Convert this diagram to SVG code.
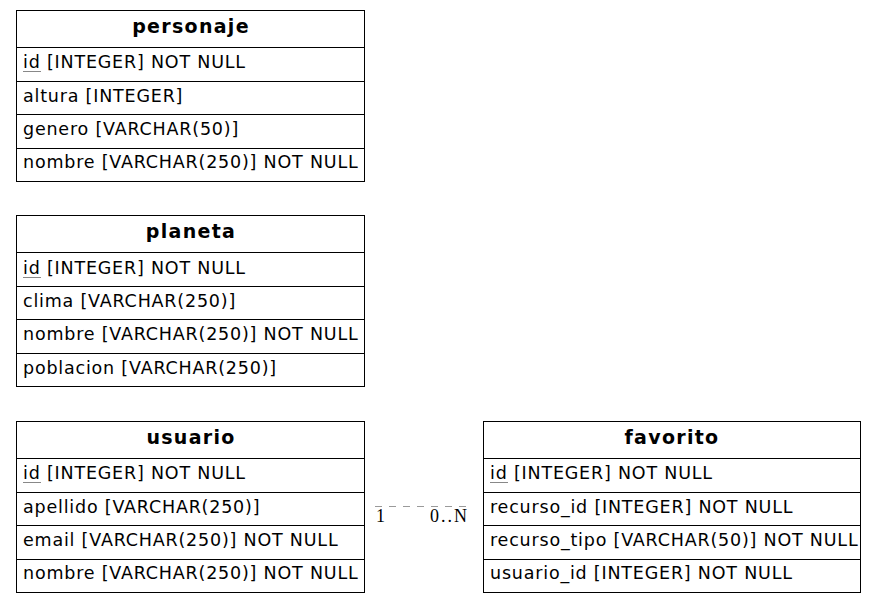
<svg xmlns="http://www.w3.org/2000/svg" width="876" height="603" viewBox="0 0 876 603">
  <style>
    .box { fill: #ffffff; stroke: #000000; stroke-width: 1; }
    .sep { stroke: #000000; stroke-width: 1; }
    .title { font-family: "DejaVu Sans", sans-serif; font-size: 19px; font-weight: bold; letter-spacing: 1.3px; text-anchor: middle; fill: #000; }
    .col { font-family: "DejaVu Sans", sans-serif; font-size: 17.5px; letter-spacing: 0.8px; fill: #000; }
    .pk { stroke: #888888; stroke-width: 1; }
    .rel { stroke: #9a9a9a; stroke-width: 1; stroke-dasharray: 7 7; fill: none; }
    .card { font-family: "Liberation Serif", "DejaVu Serif", serif; font-size: 18px; letter-spacing: 2px; fill: #000; }
  </style>
  <rect width="876" height="603" fill="#ffffff"/>

  <!-- personaje -->
  <g id="personaje">
    <rect class="box" x="16.5" y="10.5" width="348" height="171"/>
    <line class="sep" x1="16.5" y1="47.5" x2="364.5" y2="47.5"/>
    <line class="sep" x1="16.5" y1="81.5" x2="364.5" y2="81.5"/>
    <line class="sep" x1="16.5" y1="114.5" x2="364.5" y2="114.5"/>
    <line class="sep" x1="16.5" y1="148.5" x2="364.5" y2="148.5"/>
    <text class="title" x="191" y="33">personaje</text>
    <text class="col" x="23" y="68">id [INTEGER] NOT NULL</text>
    <line class="pk" x1="23" y1="71.5" x2="41" y2="71.5"/>
    <text class="col" x="23" y="102">altura [INTEGER]</text>
    <text class="col" x="23" y="135">genero [VARCHAR(50)]</text>
    <text class="col" x="23" y="168">nombre [VARCHAR(250)] NOT NULL</text>
  </g>

  <!-- planeta -->
  <g id="planeta">
    <rect class="box" x="16.5" y="215.5" width="348" height="171"/>
    <line class="sep" x1="16.5" y1="252.5" x2="364.5" y2="252.5"/>
    <line class="sep" x1="16.5" y1="286.5" x2="364.5" y2="286.5"/>
    <line class="sep" x1="16.5" y1="319.5" x2="364.5" y2="319.5"/>
    <line class="sep" x1="16.5" y1="353.5" x2="364.5" y2="353.5"/>
    <text class="title" x="191" y="238">planeta</text>
    <text class="col" x="23" y="274">id [INTEGER] NOT NULL</text>
    <line class="pk" x1="23" y1="277.5" x2="41" y2="277.5"/>
    <text class="col" x="23" y="307">clima [VARCHAR(250)]</text>
    <text class="col" x="23" y="340">nombre [VARCHAR(250)] NOT NULL</text>
    <text class="col" x="23" y="374">poblacion [VARCHAR(250)]</text>
  </g>

  <!-- usuario -->
  <g id="usuario">
    <rect class="box" x="16.5" y="421.5" width="348" height="171"/>
    <line class="sep" x1="16.5" y1="458.5" x2="364.5" y2="458.5"/>
    <line class="sep" x1="16.5" y1="492.5" x2="364.5" y2="492.5"/>
    <line class="sep" x1="16.5" y1="525.5" x2="364.5" y2="525.5"/>
    <line class="sep" x1="16.5" y1="559.5" x2="364.5" y2="559.5"/>
    <text class="title" x="191" y="444">usuario</text>
    <text class="col" x="23" y="479">id [INTEGER] NOT NULL</text>
    <line class="pk" x1="23" y1="482.5" x2="41" y2="482.5"/>
    <text class="col" x="23" y="513">apellido [VARCHAR(250)]</text>
    <text class="col" x="23" y="546">email [VARCHAR(250)] NOT NULL</text>
    <text class="col" x="23" y="579">nombre [VARCHAR(250)] NOT NULL</text>
  </g>

  <!-- favorito -->
  <g id="favorito">
    <rect class="box" x="483.5" y="421.5" width="377" height="171"/>
    <line class="sep" x1="483.5" y1="458.5" x2="860.5" y2="458.5"/>
    <line class="sep" x1="483.5" y1="492.5" x2="860.5" y2="492.5"/>
    <line class="sep" x1="483.5" y1="525.5" x2="860.5" y2="525.5"/>
    <line class="sep" x1="483.5" y1="559.5" x2="860.5" y2="559.5"/>
    <text class="title" x="672" y="444">favorito</text>
    <text class="col" x="490" y="479">id [INTEGER] NOT NULL</text>
    <line class="pk" x1="490" y1="482.5" x2="508" y2="482.5"/>
    <text class="col" x="490" y="513">recurso_id [INTEGER] NOT NULL</text>
    <text class="col" x="490" y="546">recurso_tipo [VARCHAR(50)] NOT NULL</text>
    <text class="col" x="490" y="579">usuario_id [INTEGER] NOT NULL</text>
  </g>

  <!-- relationships -->
  <g id="connectors">
    <line class="rel" x1="375" y1="506.5" x2="467" y2="506.5"/>
    <text class="card" x="376" y="522">1</text>
    <text class="card" x="430" y="522">0..N</text>
  </g>
</svg>
